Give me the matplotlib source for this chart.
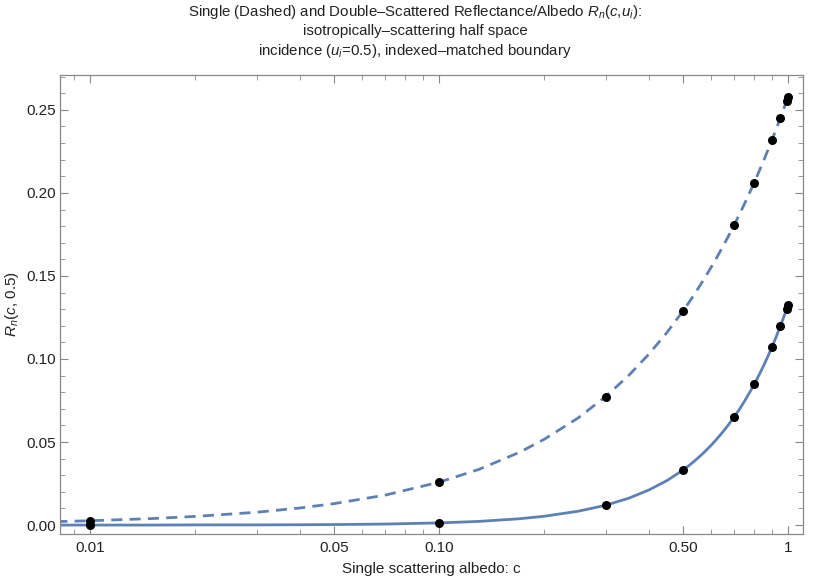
import matplotlib
matplotlib.use("Agg")
import matplotlib.pyplot as plt
from matplotlib.ticker import FixedLocator, NullFormatter

plt.rcParams['font.family'] = ['Liberation Sans', 'DejaVu Sans']
plt.rcParams['mathtext.fontset'] = 'custom'
plt.rcParams['mathtext.rm'] = 'Liberation Sans'
plt.rcParams['mathtext.it'] = 'Liberation Sans:italic'

# curve samples
c_curve = [0.008, 0.01, 0.015, 0.02, 0.03, 0.04, 0.05, 0.07, 0.1, 0.13, 0.17, 0.2,
           0.25, 0.3, 0.35, 0.4, 0.45, 0.5, 0.525, 0.55, 0.575, 0.6, 0.625, 0.65,
           0.675, 0.7, 0.725, 0.75, 0.775, 0.8, 0.825, 0.85, 0.875, 0.9, 0.925,
           0.95, 0.975, 1.0]
single_curve = [0.0021, 0.0026, 0.0039, 0.0052, 0.0077, 0.0103, 0.0129, 0.0180,
                0.0258, 0.0335, 0.0438, 0.0516, 0.0644, 0.0773, 0.0902, 0.1031,
                0.1160, 0.1289, 0.1353, 0.1418, 0.1482, 0.1547, 0.1611, 0.1676,
                0.1740, 0.1805, 0.1869, 0.1933, 0.1998, 0.2062, 0.2127, 0.2191,
                0.2256, 0.2320, 0.2385, 0.2449, 0.2514, 0.2578]
double_curve = [0.0000, 0.0000, 0.0000, 0.0001, 0.0001, 0.0002, 0.0003, 0.0006,
                0.0013, 0.0022, 0.0038, 0.0053, 0.0083, 0.0119, 0.0162, 0.0212,
                0.0268, 0.0331, 0.0365, 0.0401, 0.0438, 0.0477, 0.0518, 0.0560,
                0.0604, 0.0649, 0.0696, 0.0745, 0.0796, 0.0848, 0.0902, 0.0957,
                0.1014, 0.1073, 0.1134, 0.1196, 0.1260, 0.1325]

# discrete points
c_pts = [0.01, 0.1, 0.3, 0.5, 0.7, 0.8, 0.9, 0.95, 0.99, 1.0]
single_pts = [0.0026, 0.0258, 0.0773, 0.1289, 0.1805, 0.2062, 0.2320, 0.2449, 0.2552, 0.2578]
double_pts = [0.0000, 0.0013, 0.0119, 0.0331, 0.0649, 0.0848, 0.1073, 0.1196, 0.1299, 0.1325]

xticks = [0.01, 0.05, 0.1, 0.5, 1]
xticklabels = ['0.01', '0.05', '0.10', '0.50', '1']
yticks = [0.0, 0.05, 0.10, 0.15, 0.20, 0.25]
yticklabels = ['0.00', '0.05', '0.10', '0.15', '0.20', '0.25']

color = '#5E81B5'
fig = plt.figure(figsize=(8.3, 5.83), dpi=100)
ax = fig.add_axes([0.0723, 0.0840, 0.8952, 0.7874])

ax.plot(c_curve, single_curve, color=color, lw=2.0, dashes=(4, 2.6))
ax.plot(c_curve, double_curve, color=color, lw=2.0)
ax.scatter(c_pts, single_pts, s=30, color='black', zorder=3)
ax.scatter(c_pts, double_pts, s=30, color='black', zorder=3)

ax.set_xscale('log')
ax.set_xlim(0.0082, 1.104)
ax.set_ylim(-0.0054, 0.271)

ax.xaxis.set_major_locator(FixedLocator(xticks))
ax.set_xticklabels(xticklabels)
minor_x = [0.009] + [i * 0.01 for i in range(2, 10) if i != 5] + \
          [i * 0.1 for i in range(2, 10) if i != 5]
ax.xaxis.set_minor_locator(FixedLocator(minor_x))
ax.xaxis.set_minor_formatter(NullFormatter())
ax.set_yticks(yticks)
ax.set_yticklabels(yticklabels)
ax.yaxis.set_minor_locator(FixedLocator([i * 0.01 for i in range(0, 28) if i % 5 != 0]))

grey = '#888888'
for s in ax.spines.values():
    s.set_color(grey)
    s.set_linewidth(0.9)
ax.tick_params(which='both', direction='in', top=True, right=True, color=grey,
               labelsize=11, labelcolor='#222222')
ax.tick_params(axis='y', which='major', length=6, width=0.8, pad=3)
ax.tick_params(axis='x', which='major', length=6, width=0.8, pad=5)
ax.tick_params(which='minor', length=3.5, width=0.6)

ax.set_xlabel('Single scattering albedo: c', fontsize=11, color='#222222', labelpad=5)
ax.set_ylabel(r'$R_n$($c$, 0.5)', fontsize=11, color='#222222', labelpad=4)

title = ("Single (Dashed) and Double\u2013Scattered Reflectance/Albedo $R_n$($c$,$u_i$):\n"
         "isotropically\u2013scattering half space\n"
         "incidence ($u_i$=0.5), indexed\u2013matched boundary")
fig.text(0.5, 0.995, title, ha='center', va='top', fontsize=10.8, linespacing=1.3,
         color='#222222')

fig.savefig('out.png', dpi=100)
